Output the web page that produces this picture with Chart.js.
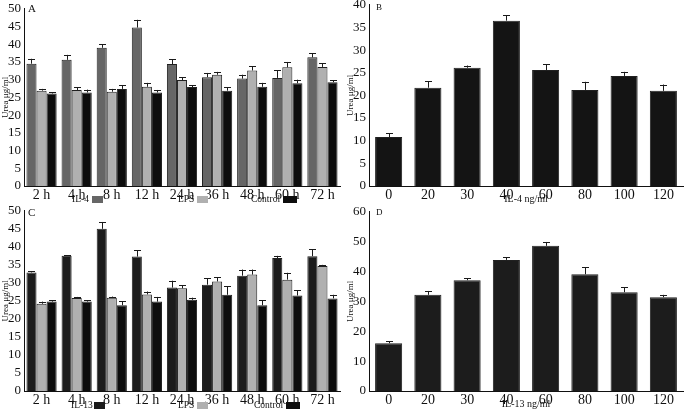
<!DOCTYPE html>
<html>
<head>
<meta charset="utf-8">
<script src="https://cdn.jsdelivr.net/npm/chart.js@4/dist/chart.umd.min.js"></script>
<style>
  body { margin: 0; background: #fff; }
  #page { position: relative; width: 685px; height: 410px; overflow: hidden; font-family: 'Liberation Serif', serif; color: #111; }
  .panel { position: absolute; }
  .tag { position: absolute; font-size: 11px; }
  .leg { position: absolute; font-size: 9.5px; line-height: 10px; white-space: nowrap; }
  .sw { display: inline-block; width: 11px; height: 7px; margin-left: 3px; vertical-align: -1px; }
</style>
</head>
<body>
<div id="page">
  <div class="panel" style="left:0;top:-2px"><canvas id="chartA" width="345" height="207"></canvas></div>
  <div class="panel" style="left:345px;top:-6px"><canvas id="chartB" width="340" height="211"></canvas></div>
  <div class="panel" style="left:0;top:200px"><canvas id="chartC" width="345" height="210"></canvas></div>
  <div class="panel" style="left:345px;top:201px"><canvas id="chartD" width="340" height="209"></canvas></div>

  <div class="tag" style="left:28px;top:2px">A</div>
  <div class="tag" style="left:376px;top:2px;font-size:9px">B</div>
  <div class="tag" style="left:28px;top:206px">C</div>
  <div class="tag" style="left:376px;top:207px;font-size:9px">D</div>

  <div class="leg" style="left:72px;top:194px">IL-4<span class="sw" style="background:#666"></span></div>
  <div class="leg" style="left:178px;top:194px">LPS<span class="sw" style="background:#b0b0b0"></span></div>
  <div class="leg" style="left:251px;top:194px">Control<span class="sw" style="background:#0d0d0d;width:14px"></span></div>

  <div class="leg" style="left:71px;top:400px">IL-13<span class="sw" style="background:#1a1a1a;margin-left:1px"></span></div>
  <div class="leg" style="left:178px;top:400px">LPS<span class="sw" style="background:#b0b0b0"></span></div>
  <div class="leg" style="left:254px;top:400px">Control<span class="sw" style="background:#0d0d0d;width:14px"></span></div>
</div>
<script>
// time points (panels A, C) and doses (panels B, D)
const hours = ['2 h', '4 h', '8 h', '12 h', '24 h', '36 h', '48 h', '60 h', '72 h'];
const doses = ['0', '20', '30', '40', '60', '80', '100', '120'];

// panel A: IL-4 time course
const il4Time = [34.5, 35.6, 39.0, 44.7, 34.4, 30.7, 30.3, 30.5, 36.3];
const il4TimeErr = [1.4, 1.4, 1.0, 2.2, 1.3, 1.2, 1.1, 2.1, 1.1];
const lpsA = [26.9, 27.1, 26.6, 28.0, 29.9, 31.4, 32.6, 33.5, 33.6];
const lpsAErr = [0.5, 0.8, 0.8, 1.1, 0.8, 0.8, 1.2, 1.5, 1.0];
const ctrlA = [26.1, 26.4, 27.4, 26.4, 27.9, 26.9, 28.0, 29.0, 29.3];
const ctrlAErr = [0.4, 0.8, 1.1, 0.7, 0.5, 1.0, 1.1, 1.0, 0.6];

// panel B: IL-4 dose
const il4Dose = [10.8, 21.7, 26.1, 36.5, 25.6, 21.2, 24.3, 21.0];
const il4DoseErr = [0.8, 1.4, 0.5, 1.2, 1.3, 1.8, 0.9, 1.4];

// panel C: IL-13 time course
const il13Time = [32.9, 37.5, 45.0, 37.3, 28.7, 29.5, 32.0, 36.9, 37.4];
const il13TimeErr = [0.4, 0.1, 1.9, 1.7, 1.9, 1.8, 1.7, 0.6, 1.9];
const lpsC = [24.2, 25.8, 25.9, 26.8, 28.5, 30.4, 32.3, 30.9, 34.7];
const lpsCErr = [0.6, 0.3, 0.3, 0.8, 0.8, 1.1, 1.4, 1.9, 0.3];
const ctrlC = [24.8, 24.8, 23.8, 24.8, 25.3, 26.7, 23.8, 26.5, 25.7];
const ctrlCErr = [0.4, 0.4, 1.1, 1.3, 0.6, 2.3, 1.4, 1.4, 1.0];

// panel D: IL-13 dose
const il13Dose = [16.0, 32.2, 37.1, 43.9, 48.6, 39.1, 33.1, 31.4];
const il13DoseErr = [0.7, 1.3, 0.6, 0.9, 1.3, 2.4, 1.6, 0.8];

const serif = 'Liberation Serif';

const errorBars = {
  id: 'errorBars',
  afterDatasetsDraw(chart) {
    const ctx = chart.ctx;
    const y = chart.scales.y;
    chart.data.datasets.forEach((ds, i) => {
      chart.getDatasetMeta(i).data.forEach((bar, j) => {
        const top = y.getPixelForValue(ds.data[j] + ds.errors[j]);
        const x = Math.round(bar.x) + 0.5;
        ctx.save();
        ctx.strokeStyle = '#1a1a1a';
        ctx.lineWidth = 1;
        ctx.beginPath();
        ctx.moveTo(x, bar.y);
        ctx.lineTo(x, top);
        ctx.moveTo(x - 3.5, Math.round(top) + 0.5);
        ctx.lineTo(x + 3.5, Math.round(top) + 0.5);
        ctx.stroke();
        ctx.restore();
      });
    });
  }
};

function makeChart(id, labels, datasets, yMax, yStep, xTitle, rightPad, catPct, barPct) {
  return new Chart(document.getElementById(id), {
    type: 'bar',
    data: { labels, datasets },
    options: {
      responsive: false,
      animation: false,
      layout: { padding: { left: 0, right: rightPad, top: 0, bottom: 0 } },
      categoryPercentage: catPct,
      barPercentage: barPct,
      plugins: { legend: { display: false }, tooltip: { enabled: false } },
      scales: {
        x: {
          grid: { display: false, drawTicks: false },
          border: { color: '#111', width: 1 },
          ticks: { color: '#111', font: { family: serif, size: 14 }, padding: 1, maxRotation: 0, autoSkip: false },
          title: xTitle ? { display: true, text: xTitle, color: '#111', font: { family: serif, size: 10 }, padding: 0 } : { display: false },
          afterFit(scale) { scale.height = 19; }
        },
        y: {
          min: 0, max: yMax,
          grid: { display: false, drawTicks: false },
          border: { color: '#111', width: 1 },
          ticks: { stepSize: yStep, autoSkip: false, color: '#111', font: { family: serif, size: 13 }, padding: 3 },
          title: { display: true, text: 'Urea μg/ml', color: '#111', font: { family: serif, size: 9 }, padding: 0 },
          afterFit(scale) { scale.width = 24; }
        }
      }
    },
    plugins: [errorBars]
  });
}

function bars(data, errors, color) {
  return { data, errors, backgroundColor: color, borderColor: '#202020', borderWidth: 1 };
}

makeChart('chartA', hours, [
  bars(il4Time, il4TimeErr, '#666666'),
  bars(lpsA, lpsAErr, '#b0b0b0'),
  bars(ctrlA, ctrlAErr, '#0d0d0d')
], 50, 5, null, 5, 0.86, 1.0);

makeChart('chartB', doses, [
  bars(il4Dose, il4DoseErr, '#141414')
], 40, 5, 'IL-4 ng/ml', 2, 0.69, 1.0);

makeChart('chartC', hours, [
  bars(il13Time, il13TimeErr, '#1c1c1c'),
  bars(lpsC, lpsCErr, '#b0b0b0'),
  bars(ctrlC, ctrlCErr, '#0d0d0d')
], 50, 5, null, 5, 0.86, 1.0);

makeChart('chartD', doses, [
  bars(il13Dose, il13DoseErr, '#1c1c1c')
], 60, 10, 'IL-13 ng/ml', 2, 0.69, 1.0);
</script>
</body>
</html>
